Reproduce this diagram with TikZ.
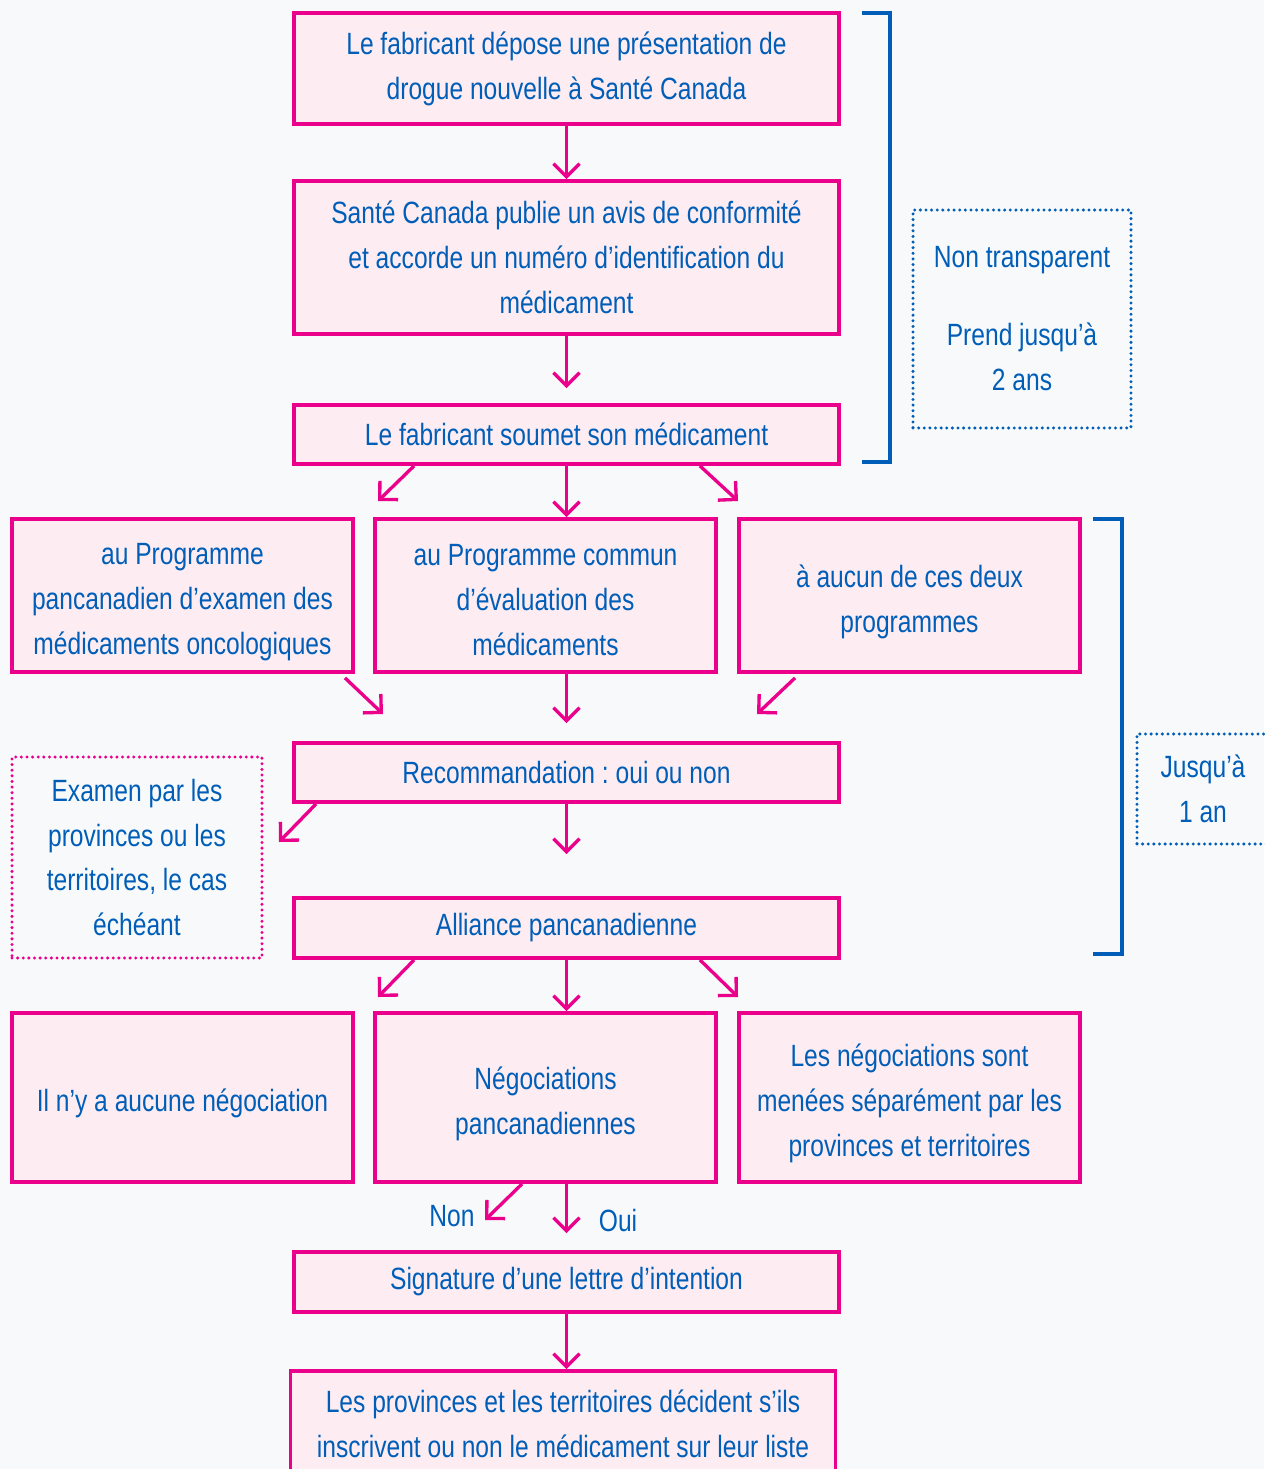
\documentclass[tikz,border=0pt]{standalone}
\usepackage{fontspec}
\setmainfont[FakeStretch=0.8]{Liberation Sans}
\usetikzlibrary{arrows.meta}
\definecolor{pinkc}{RGB}{234,0,138}
\definecolor{pinkfill}{RGB}{253,236,242}
\definecolor{bluec}{RGB}{0,94,184}
\definecolor{bgc}{RGB}{248,249,250}
\frenchspacing
\tikzset{
  box/.style={draw=pinkc, fill=pinkfill, line width=2.2pt, text=bluec,
    align=center, inner sep=0pt, font=\fontsize{17.5}{25.6}\selectfont},
  widebox/.style={box, minimum width=10.9cm},
  rowbox/.style={box, minimum width=6.82cm},
  note/.style={line width=1.9pt, dash pattern=on 0pt off 3.2pt, line cap=round,
    text=bluec, align=center, inner sep=0pt, font=\fontsize{17.5}{25.6}\selectfont},
  arr/.style={draw=pinkc, line width=1.9pt, -{Straight Barb[length=0.26cm,width=0.52cm]}},
  brk/.style={draw=bluec, line width=2.2pt},
  lbl/.style={text=bluec, font=\fontsize{17.5}{25.6}\selectfont}
}
\begin{document}
\begin{tikzpicture}[x=0.02cm, y=-0.02cm]
  \fill[bgc] (0,0) rectangle (1264,1469);
  \useasboundingbox (0,0) rectangle (1264,1469);
  % main column
  \node[widebox, minimum height=2.22cm] (depot) at (566.5,68.5)
    {Le fabricant dépose une présentation de\\drogue nouvelle à Santé Canada};
  \node[widebox, minimum height=3.06cm] (avis) at (566.5,257.5)
    {Santé Canada publie un avis de conformité\\et accorde un numéro d’identification du\\médicament};
  \node[widebox, minimum height=1.18cm] (soumet) at (566.5,434.5)
    {Le fabricant soumet son médicament};
  \node[rowbox, minimum height=3.06cm] (pcodo) at (182.5,595.5)
    {\\[-0.2cm]au Programme\\pancanadien d’examen des\\médicaments oncologiques};
  \node[rowbox, minimum height=3.06cm] (pcem) at (545.5,595.5)
    {\\[-0.28cm]au Programme commun\\d’évaluation des\\médicaments};
  \node[rowbox, minimum height=3.06cm] (aucun) at (909.5,595.5)
    {\\[-0.2cm]à aucun de ces deux\\programmes};
  \node[widebox, minimum height=1.18cm] (recom) at (566.5,772.5)
    {Recommandation : oui ou non};
  \node[widebox, minimum height=1.2cm] (alliance) at (566.5,928)
    {Alliance pancanadienne};
  \node[rowbox, minimum height=3.38cm] (aucune) at (182.5,1097.5)
    {\\[-0.2cm]Il n’y a aucune négociation};
  \node[rowbox, minimum height=3.38cm] (nego) at (545.5,1097.5)
    {\\[-0.2cm]Négociations\\pancanadiennes};
  \node[rowbox, minimum height=3.38cm] (separe) at (909.5,1097.5)
    {\\[-0.2cm]Les négociations sont\\menées séparément par les\\provinces et territoires};
  \node[widebox, minimum height=1.2cm] (lettre) at (566.5,1282)
    {Signature d’une lettre d’intention};
  \node[widebox, minimum height=2.1cm] (inscr) at (563,1423.5)
    {Les provinces et les territoires décident s’ils\\inscrivent ou non le médicament sur leur liste};
  % side notes
  \node[note, draw=bluec, minimum width=4.36cm, minimum height=4.36cm] (transp) at (1022,319)
    {Non transparent\\[0.66cm]Prend jusqu’à\\2 ans};
  \node[note, draw=pinkc, minimum width=5cm, minimum height=4.02cm] (examen) at (137,857.5)
    {Examen par les\\provinces ou les\\territoires, le cas\\échéant};
  \node[note, draw=bluec, minimum width=2.64cm, minimum height=2.2cm] (jusqua) at (1203,789)
    {Jusqu’à\\1 an};
  \node[lbl] (non) at (452,1216) {Non};
  \node[lbl] (oui) at (618,1220) {Oui};
  % free ends
  \coordinate (s1) at (378,501);
  \coordinate (s3) at (738,501);
  \coordinate (r1) at (383,714);
  \coordinate (r3) at (757,714);
  \coordinate (r4) at (279,842);
  \coordinate (a1) at (378,997);
  \coordinate (a3) at (738,997);
  \coordinate (n1) at (485,1220);
  % brackets
  \draw[brk] (862,13) -- (890,13) -- (890,462) -- (862,462);
  \draw[brk] (1093,519) -- (1122,519) -- (1122,954) -- (1093,954);
  % connectors
  \begin{scope}
    \draw[arr] (depot) -- (avis);
    \draw[arr, shorten >=0.3cm] (avis) -- (soumet);
    \draw[arr] (soumet.south) -- (soumet.south |- pcem.north);
    \draw[arr] ([xshift=-3.05cm]soumet.south) -- (s1);
    \draw[arr] ([xshift=2.67cm]soumet.south) -- (s3);
    \draw[arr] ([xshift=3.25cm,yshift=-0.08cm]pcodo.south) -- (r1);
    \draw[arr, shorten >=0.36cm] (soumet.south |- pcem.south) -- (recom.north);
    \draw[arr] ([xshift=-2.29cm,yshift=-0.08cm]aucun.south) -- (r3);
    \draw[arr] ([xshift=-5.01cm]recom.south) -- (r4);
    \draw[arr, shorten >=0.84cm] (recom) -- (alliance);
    \draw[arr] ([xshift=-3.05cm]alliance.south) -- (a1);
    \draw[arr] (alliance.south) -- (alliance.south |- nego.north);
    \draw[arr] ([xshift=2.67cm]alliance.south) -- (a3);
    \draw[arr] ([xshift=-0.89cm]nego.south -| lettre.south) -- (n1);
    \draw[arr, shorten >=0.34cm] (nego.south -| lettre.south) -- (lettre.north);
    \draw[arr] (lettre) -- (lettre.south |- inscr.north);
  \end{scope}
\end{tikzpicture}
\end{document}
